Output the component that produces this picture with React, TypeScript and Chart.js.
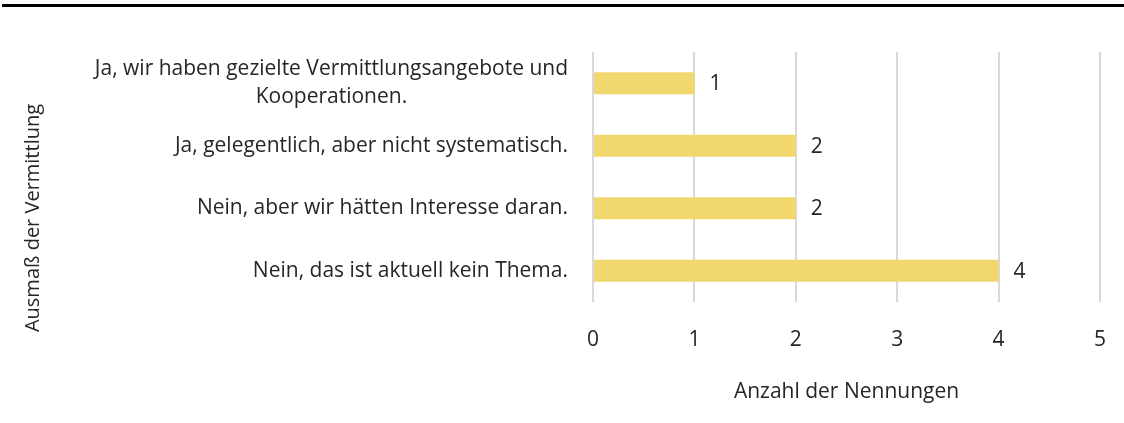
import React, { useEffect, useRef } from "react";
import { Chart, registerables } from "chart.js";

Chart.register(...registerables);

const categories: string[][] = [
  ["Ja, wir haben gezielte Vermittlungsangebote und", "Kooperationen."],
  ["Ja, gelegentlich, aber nicht systematisch."],
  ["Nein, aber wir hätten Interesse daran."],
  ["Nein, das ist aktuell kein Thema."],
];
const values: number[] = [1, 2, 2, 4];
const xTicks: number[] = [0, 1, 2, 3, 4, 5];
const xTitle = "Anzahl der Nennungen";
const yTitle = "Ausmaß der Vermittlung";

const FONT = "'Open Sans', 'Noto Sans', sans-serif";
const TEXT = "#262626";
const FS = 21;

export default function App() {
  const ref = useRef<HTMLCanvasElement | null>(null);
  useEffect(() => {
    if (!ref.current) return;
    const overlay = {
      id: "overlay",
      afterDraw(chart: any) {
        const ctx = chart.ctx as CanvasRenderingContext2D;
        const y = chart.scales.y;
        const x = chart.scales.x;
        ctx.save();
        // top rule
        ctx.fillStyle = "#000";
        ctx.fillRect(2, 4, 1122, 3);
        ctx.fillStyle = TEXT;
        ctx.font = `${FS}px ${FONT}`;
        ctx.textBaseline = "middle";
        // category labels
        categories.forEach((lines, i) => {
          const cy = y.getPixelForValue(i);
          const lh = 28;
          const widths = lines.map((l) => ctx.measureText(l).width);
          const maxW = Math.max(...widths);
          const right = x.left - 25;
          const cx = right - maxW / 2;
          ctx.textAlign = "center";
          lines.forEach((l, j) => {
            const ly = cy + (j - (lines.length - 1) / 2) * lh;
            ctx.fillText(l, cx, ly);
          });
        });
        // value labels
        ctx.textAlign = "left";
        values.forEach((v, i) => {
          ctx.fillText(String(v), x.getPixelForValue(v) + 15, y.getPixelForValue(i) + 1);
        });
        // y title
        ctx.font = `20px ${FONT}`;
        ctx.translate(33, 218);
        ctx.rotate(-Math.PI / 2);
        ctx.textAlign = "center";
        ctx.fillText(yTitle, 0, 0);
        ctx.restore();
      },
    };
    const chart = new Chart(ref.current, {
      type: "bar",
      data: {
        labels: categories.map((c) => c.join(" ")),
        datasets: [
          {
            data: values,
            backgroundColor: "#F0D76E",
            barPercentage: 0.7,
            categoryPercentage: 0.5,
          },
        ],
      },
      options: {
        indexAxis: "y",
        animation: false,
        responsive: false,
        maintainAspectRatio: false,
        layout: { padding: { top: 52, right: 24, left: 0, bottom: 0 } },
        plugins: { legend: { display: false }, tooltip: { enabled: false } },
        scales: {
          x: {
            min: 0,
            max: 5,
            afterBuildTicks(scale: any) {
              scale.ticks = xTicks.map((v) => ({ value: v }));
            },
            afterFit(scale: any) {
              scale.height = 121;
              scale.paddingLeft = 0;
              scale.paddingRight = 0;
            },
            grid: { color: "#D9D9D9", lineWidth: 2, drawTicks: false },
            border: { display: false },
            ticks: { color: TEXT, font: { family: FONT, size: FS }, padding: 25 },
            title: {
              display: true,
              text: xTitle,
              color: TEXT,
              font: { family: FONT, size: FS },
              padding: { top: 0, bottom: 18 },
            },
          },
          y: {
            afterFit(scale: any) {
              scale.width = 593;
              scale.paddingTop = 0;
              scale.paddingBottom = 0;
            },
            grid: { display: false },
            border: { display: false },
            ticks: { display: false },
          },
        },
      },
      plugins: [overlay],
    });
    return () => chart.destroy();
  }, []);
  return (
    <div style={{ position: "absolute", left: 0, top: 0, width: 1124, height: 423 }}>
      <canvas ref={ref} width={1124} height={423} style={{ display: "block" }} />
    </div>
  );
}
